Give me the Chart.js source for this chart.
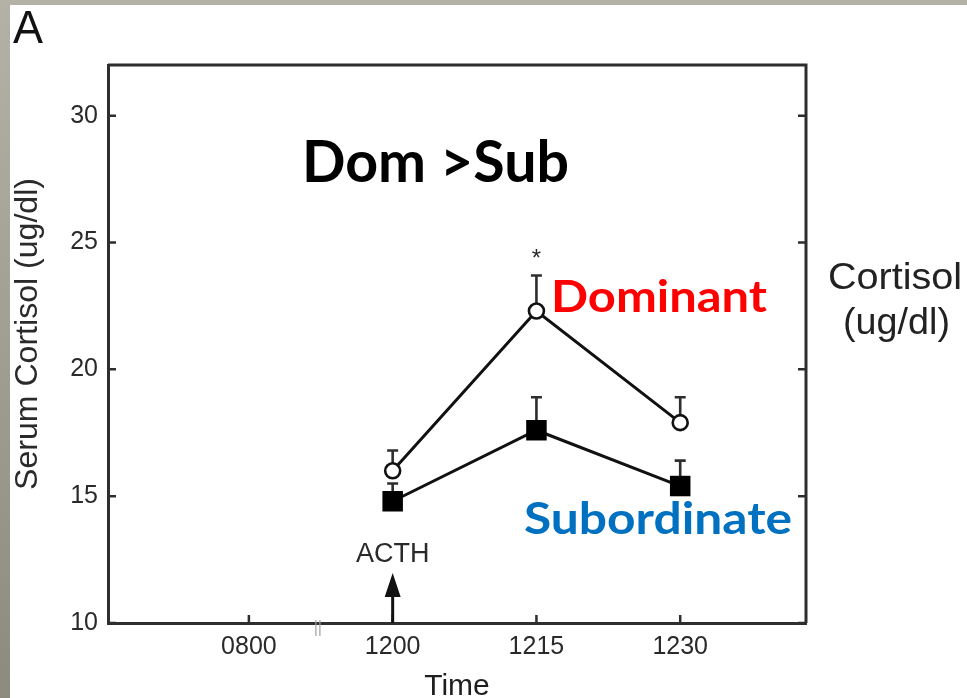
<!DOCTYPE html>
<html>
<head>
<meta charset="utf-8">
<script src="https://cdn.jsdelivr.net/npm/chart.js@4/dist/chart.umd.min.js"></script>
<style>
  html, body { margin: 0; padding: 0; background: #ffffff; }
  canvas { display: block; }
</style>
</head>
<body>
<canvas id="c" width="967" height="698"></canvas>
<script>
// Sampling times and where they sit on the time axis
const timeLabels = ['0800', '1200', '1215', '1230'];
const timePositions = [1, 2, 3, 4];

// Times that carry measurements (ACTH given at 1200)
const sampleTimes = ['1200', '1215', '1230'];

// Serum cortisol (ug/dl), mean and upper error (SEM)
const dominantMean = [16.0, 22.3, 17.9];
const dominantErr = [0.8, 1.4, 1.0];
const subordinateMean = [14.8, 17.6, 15.4];
const subordinateErr = [0.7, 1.3, 1.0];

// Y axis ticks
const cortisolTicks = [10, 15, 20, 25, 30];

const posOf = (label) => timePositions[timeLabels.indexOf(label)];
const toPoints = (means) => means.map((v, i) => ({ x: posOf(sampleTimes[i]), y: v }));

const INK = '#2e2e2e';
const SANS = '"Liberation Sans", Arial, sans-serif';

// Page frame: grey strip on the left and top, white sheet
const framePlugin = {
  id: 'frame',
  beforeDraw(chart) {
    const { ctx, width, height } = chart;
    ctx.save();
    const g = ctx.createLinearGradient(0, 0, 0, height);
    g.addColorStop(0, '#b4b2a6');
    g.addColorStop(1, '#8d8b7e');
    ctx.fillStyle = g;
    ctx.fillRect(0, 0, width, height);
    ctx.fillStyle = '#ffffff';
    ctx.fillRect(10, 5, width - 10, height - 5);
    ctx.restore();
  }
};

// Upward error bars with caps
const errorBarPlugin = {
  id: 'errorBars',
  beforeDatasetsDraw(chart) {
    const { ctx } = chart;
    const xs = chart.scales.x, ys = chart.scales.y;
    const sets = [[dominantMean, dominantErr], [subordinateMean, subordinateErr]];
    ctx.save();
    ctx.strokeStyle = INK;
    ctx.lineWidth = 2.6;
    sets.forEach(([means, errs]) => {
      means.forEach((m, i) => {
        const px = xs.getPixelForValue(posOf(sampleTimes[i]));
        const y0 = ys.getPixelForValue(m);
        const y1 = ys.getPixelForValue(m + errs[i]);
        ctx.beginPath();
        ctx.moveTo(px, y0);
        ctx.lineTo(px, y1);
        ctx.moveTo(px - 5.5, y1);
        ctx.lineTo(px + 5.5, y1);
        ctx.stroke();
      });
    });
    ctx.restore();
  }
};

// Draws text of a given cap height stretched to a given length
function fitText(ctx, text, opt) {
  const probe = 100;
  ctx.font = `${opt.weight} ${probe}px ${opt.family}`;
  const capRatio = ctx.measureText('H').actualBoundingBoxAscent / probe;
  const size = opt.cap / capRatio;
  ctx.font = `${opt.weight} ${size}px ${opt.family}`;
  const w = ctx.measureText(text).width;
  ctx.save();
  ctx.translate(opt.left, opt.baseline);
  if (opt.rotate) ctx.rotate(opt.rotate);
  ctx.scale(opt.width / w, 1);
  ctx.fillStyle = opt.color;
  ctx.textAlign = 'left';
  ctx.textBaseline = 'alphabetic';
  ctx.fillText(text, 0, 0);
  ctx.restore();
}

// Box, inward ticks, axis break, ACTH arrow, significance star and labels
const decorPlugin = {
  id: 'decor',
  afterDraw(chart) {
    const { ctx, chartArea: a } = chart;
    const xs = chart.scales.x, ys = chart.scales.y;
    ctx.save();
    ctx.strokeStyle = INK;
    ctx.lineWidth = 3;
    ctx.beginPath();
    ctx.moveTo(a.left, a.top);
    ctx.lineTo(a.right, a.top);
    ctx.lineTo(a.right, a.bottom);
    ctx.stroke();

    ctx.lineWidth = 2.5;
    ctx.beginPath();
    cortisolTicks.forEach(v => {
      const py = ys.getPixelForValue(v);
      ctx.moveTo(a.left, py); ctx.lineTo(a.left + 8, py);
      ctx.moveTo(a.right, py); ctx.lineTo(a.right - 8, py);
    });
    timePositions.forEach(p => {
      const px = xs.getPixelForValue(p);
      ctx.moveTo(px, a.bottom); ctx.lineTo(px, a.bottom - 8);
    });
    ctx.stroke();

    // axis break between 0800 and 1200
    ctx.strokeStyle = '#a0a0a0';
    ctx.lineWidth = 1.2;
    const bx = xs.getPixelForValue(1.48);
    ctx.beginPath();
    ctx.moveTo(bx - 2, a.bottom - 3); ctx.lineTo(bx - 2, a.bottom + 13);
    ctx.moveTo(bx + 2, a.bottom - 3); ctx.lineTo(bx + 2, a.bottom + 13);
    ctx.stroke();

    // ACTH injection arrow at 1200
    const ax = xs.getPixelForValue(posOf('1200'));
    ctx.strokeStyle = '#111';
    ctx.fillStyle = '#111';
    ctx.lineWidth = 3;
    ctx.beginPath();
    ctx.moveTo(ax, a.bottom);
    ctx.lineTo(ax, 590);
    ctx.stroke();
    ctx.beginPath();
    ctx.moveTo(ax, 573);
    ctx.lineTo(ax - 8, 597);
    ctx.lineTo(ax + 8, 597);
    ctx.closePath();
    ctx.fill();

    ctx.fillStyle = '#2a2a2a';
    ctx.font = '27px ' + SANS;
    ctx.textAlign = 'center';
    ctx.textBaseline = 'alphabetic';
    ctx.fillText('ACTH', ax, 562);

    // significance marker above 1215
    const sx = xs.getPixelForValue(posOf('1215'));
    ctx.font = '24px ' + SANS;
    ctx.fillText('*', sx, 266);

    // y axis title
    fitText(ctx, 'Serum Cortisol (ug/dl)', { left: 37, baseline: 490, width: 312, cap: 21, family: SANS, weight: 400, color: '#2a2a2a', rotate: -Math.PI / 2 });

    // panel letter
    fitText(ctx, 'A', { left: 13, baseline: 43, width: 30, cap: 32, family: SANS, weight: 400, color: '#111' });

    // headline and group labels
    fitText(ctx, 'Dom >Sub', { left: 302, baseline: 182, width: 267, cap: 42, family: 'Lato, "Open Sans", sans-serif', weight: 700, color: '#000000' });
    fitText(ctx, 'Dominant', { left: 551, baseline: 312, width: 216, cap: 32, family: 'Lato, "Open Sans", sans-serif', weight: 700, color: '#ff0000' });
    fitText(ctx, 'Subordinate', { left: 524, baseline: 534, width: 268, cap: 32, family: 'Lato, "Open Sans", sans-serif', weight: 700, color: '#0070c0' });

    // right-hand unit label
    fitText(ctx, 'Cortisol', { left: 828, baseline: 289, width: 134, cap: 25, family: SANS, weight: 400, color: '#222' });
    fitText(ctx, '(ug/dl)', { left: 843, baseline: 334, width: 107, cap: 25, family: SANS, weight: 400, color: '#222' });
    ctx.restore();
  }
};

new Chart(document.getElementById('c'), {
  type: 'line',
  data: {
    datasets: [
      {
        label: 'Dominant',
        data: toPoints(dominantMean),
        borderColor: '#111',
        borderWidth: 3,
        pointStyle: 'circle',
        pointRadius: 7.5,
        pointBorderWidth: 2.6,
        pointBackgroundColor: '#ffffff',
        pointBorderColor: '#111',
        tension: 0
      },
      {
        label: 'Subordinate',
        data: toPoints(subordinateMean),
        borderColor: '#111',
        borderWidth: 3,
        pointStyle: 'rect',
        pointRadius: 14.5,
        pointBorderWidth: 0,
        pointBackgroundColor: '#000000',
        pointBorderColor: '#000000',
        tension: 0
      }
    ]
  },
  options: {
    responsive: false,
    animation: false,
    devicePixelRatio: 1,
    layout: { padding: { left: 10, top: 65, right: 161, bottom: 0 } },
    plugins: { legend: { display: false }, tooltip: { enabled: false } },
    scales: {
      x: {
        type: 'linear',
        min: 0.02,
        max: 4.875,
        afterBuildTicks: (s) => { s.ticks = timePositions.map(v => ({ value: v })); },
        afterFit: (s) => { s.height = 75; },
        grid: { display: false, drawTicks: false },
        border: { display: true, color: INK, width: 3 },
        ticks: {
          callback: (v) => timeLabels[timePositions.indexOf(v)],
          font: { family: SANS, size: 25 },
          color: '#2a2a2a',
          padding: 9,
          maxRotation: 0,
          autoSkip: false
        },
        title: {
          display: true,
          text: 'Time',
          font: { family: SANS, size: 30, lineHeight: 0.73 },
          color: '#1e1e1e',
          padding: { top: 0, bottom: 0 }
        }
      },
      y: {
        type: 'linear',
        min: 10,
        max: 32,
        afterBuildTicks: (s) => { s.ticks = cortisolTicks.map(v => ({ value: v })); },
        afterFit: (s) => { s.width = 98; },
        grid: { display: false, drawTicks: false },
        border: { display: true, color: INK, width: 3 },
        ticks: {
          font: { family: SANS, size: 25 },
          color: '#2a2a2a',
          padding: 10
        }
      }
    }
  },
  plugins: [framePlugin, errorBarPlugin, decorPlugin]
});
</script>
</body>
</html>
